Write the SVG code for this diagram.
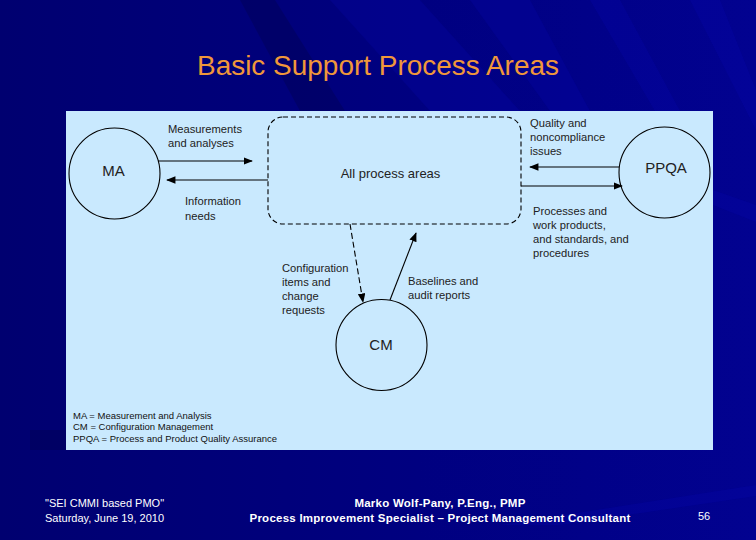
<svg xmlns="http://www.w3.org/2000/svg" width="756" height="540" viewBox="0 0 756 540">
<style>
text{font-family:"Liberation Sans",Arial,sans-serif}
.l{font-size:11.200px;fill:#222}
.n{font-size:15px;fill:#222;text-anchor:middle}
.k{font-size:9.500px;fill:#111}
.f{font-size:11px;fill:#fff}
.b{font-weight:bold;text-anchor:middle;font-size:11.500px;letter-spacing:.25px}
.c{fill:none;stroke:#000;stroke-width:1.1}
.w{fill:#0a0ab4;opacity:.22}
.d{fill:#000050;opacity:.4}
</style>
<defs>
<linearGradient id="bg" x1="0" y1="0" x2="1" y2="0">
<stop offset="0" stop-color="#000070"/><stop offset=".55" stop-color="#000080"/><stop offset="1" stop-color="#020290"/>
</linearGradient>
<marker id="a" viewBox="0 0 10 8" refX="9" refY="4" markerWidth="9.500" markerHeight="7.500" markerUnits="userSpaceOnUse" orient="auto"><path d="M0 0L10 4L0 8Z" fill="#000"/></marker>
</defs>
<rect width="756" height="540" fill="url(#bg)"/>
<g>
<polygon class="d" points="240,0 275,0 345,111 300,111"/>
<polygon class="w" points="330,0 420,0 520,111 430,111"/>
<polygon class="w" points="470,0 530,0 590,111 550,111"/>
<polygon class="w" points="590,0 620,0 680,111 655,111"/>
<polygon class="w" points="690,0 720,0 756,90 756,130"/>
<polygon class="w" points="713,190 756,205 756,222 713,205"/>
<polygon class="w" points="500,525 756,485 756,496 560,525"/>
<polygon class="d" points="30,430 66,430 66,450 30,450"/>
</g>
<rect x="66" y="111" width="647" height="339" fill="#c9e9fe"/>
<text x="378" y="75" text-anchor="middle" font-size="28" fill="#f0973a" textLength="362" lengthAdjust="spacingAndGlyphs">Basic Support Process Areas</text>
<g id="connectors">
<path class="c" d="M158 161H252" marker-end="url(#a)"/>
<path class="c" d="M268 180H167" marker-end="url(#a)"/>
<path class="c" d="M619 167H530" marker-end="url(#a)"/>
<path class="c" d="M521 186H622" marker-end="url(#a)"/>
<path class="c" d="M350 224L363 302" stroke-dasharray="6 3" marker-end="url(#a)"/>
<path class="c" d="M390 300L416 233" marker-end="url(#a)"/>
</g>
<g id="ma"><circle class="c" cx="114.500" cy="173.500" r="45.500"/><text class="n" x="113.500" y="175.500">MA</text></g>
<g id="all"><rect class="c" x="268" y="117" width="253" height="107" rx="15" stroke-dasharray="5 3"/><text x="390.500" y="178" text-anchor="middle" style="font-size:13px;fill:#222">All process areas</text></g>
<g id="ppqa"><circle class="c" cx="664.500" cy="172.500" r="45.500"/><text class="n" x="666" y="173">PPQA</text></g>
<g id="cm"><circle class="c" cx="381.500" cy="345" r="45.500"/><text class="n" x="381" y="350">CM</text></g>
<g id="labels">
<text class="l" x="168" y="133">Measurements</text><text class="l" x="168" y="147">and analyses</text>
<text class="l" x="185" y="205">Information</text><text class="l" x="185" y="220">needs</text>
<text class="l" x="530" y="127">Quality and</text><text class="l" x="530" y="141">noncompliance</text><text class="l" x="530" y="155">issues</text>
<text class="l" x="533" y="215">Processes and</text><text class="l" x="533" y="229">work products,</text><text class="l" x="533" y="243">and standards, and</text><text class="l" x="533" y="257">procedures</text>
<text class="l" x="282" y="272">Configuration</text><text class="l" x="282" y="286">items and</text><text class="l" x="282" y="300">change</text><text class="l" x="282" y="314">requests</text>
<text class="l" x="408" y="285">Baselines and</text><text class="l" x="408" y="299">audit reports</text>
</g>
<g id="key">
<text class="k" x="73" y="419">MA = Measurement and Analysis</text>
<text class="k" x="73" y="430">CM = Configuration Management</text>
<text class="k" x="73" y="442">PPQA = Process and Product Quality Assurance</text>
</g>
<g id="footer">
<text class="f" x="45" y="507">"SEI CMMI based PMO"</text>
<text class="f" x="45" y="522">Saturday, June 19, 2010</text>
<text class="f b" x="440" y="507">Marko Wolf-Pany, P.Eng., PMP</text>
<text class="f b" x="440" y="522">Process Improvement Specialist – Project Management Consultant</text>
<text class="f" x="698" y="520">56</text>
</g>
</svg>
